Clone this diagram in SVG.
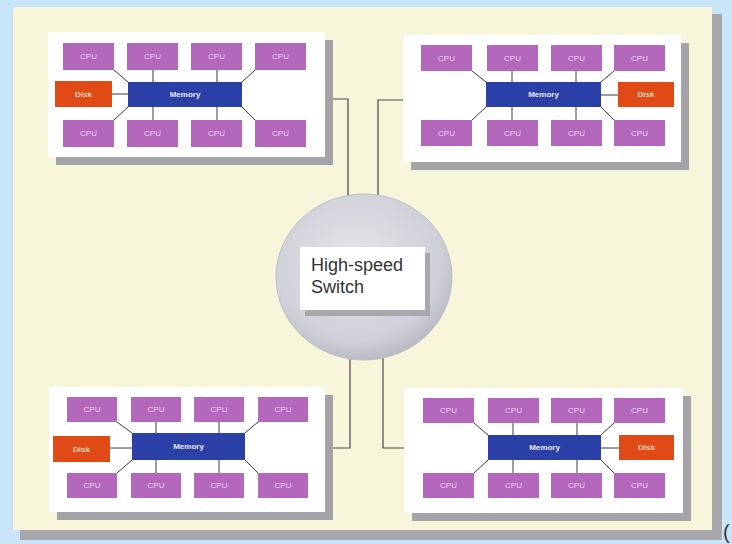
<svg xmlns="http://www.w3.org/2000/svg" width="732" height="544" viewBox="0 0 732 544">
<defs>
<style>
.cpu{fill:#b468bc}
.cpu-t{font-family:"Liberation Sans",Arial,sans-serif;font-size:8px;fill:#ecd0f0;text-anchor:middle}
.mem{fill:#2a40a6}
.mem-t{font-family:"Liberation Sans",Arial,sans-serif;font-size:8px;font-weight:bold;fill:#e8ecff;text-anchor:middle}
.disk{fill:#e04a16}
.disk-t{font-family:"Liberation Sans",Arial,sans-serif;font-size:8px;font-weight:bold;fill:#f8d4b8;text-anchor:middle}
.box{fill:#ffffff}
.shadow{fill:#a4a4a8}
.ln{stroke:#3a3a3a;stroke-width:1;fill:none}
.conn{stroke:#4a4a4a;stroke-width:1.2;fill:none}
.sw-t{font-family:"Liberation Sans",Arial,sans-serif;font-size:18px;fill:#333333}
</style>
<radialGradient id="swg" cx="0.45" cy="0.4" r="0.6">
<stop offset="0" stop-color="#e4e4ea"/>
<stop offset="0.8" stop-color="#d0d0d8"/>
<stop offset="1" stop-color="#bcbcc6"/>
</radialGradient>
</defs>
<rect x="0" y="0" width="732" height="544" fill="#c8e4f8"/>
<rect x="20" y="14" width="702" height="526" fill="#a8a8ac"/>
<rect x="13" y="7" width="699" height="523" fill="#f7f5da"/>
<text x="723" y="539" font-family="Liberation Sans,Arial,sans-serif" font-size="20" fill="#333333">(</text>

<g id="connectors">
<path class="conn" d="M242 99 H348 V200"/>
<path class="conn" d="M486 100 H378 V200"/>
<path class="conn" d="M245 448 H350 V355"/>
<path class="conn" d="M488 448 H383 V355"/>
</g>

<g id="switch">
<ellipse cx="364" cy="277" rx="88" ry="83" fill="url(#swg)" stroke="#c0c0c8" stroke-width="1"/>
<rect x="305" y="253" width="125" height="63" fill="#a8a8ae"/>
<rect x="300" y="247" width="125" height="63" fill="#ffffff"/>
<text class="sw-t" x="311" y="271">High-speed</text>
<text class="sw-t" x="311" y="293">Switch</text>
</g>

<!-- Top-left cluster -->
<g id="cluster-tl">
<rect class="shadow" x="56" y="40" width="277" height="125"/>
<rect class="box" x="48" y="32" width="277" height="125"/>
<line class="ln" x1="112" y1="94" x2="128" y2="94"/>
<line class="ln" x1="114" y1="70" x2="128" y2="82"/>
<line class="ln" x1="255" y1="70" x2="242" y2="82"/>
<line class="ln" x1="114" y1="120" x2="128" y2="107"/>
<line class="ln" x1="255" y1="120" x2="242" y2="107"/>
<line class="ln" x1="153" y1="70" x2="153" y2="82"/>
<line class="ln" x1="217" y1="70" x2="217" y2="82"/>
<line class="ln" x1="153" y1="107" x2="153" y2="120"/>
<line class="ln" x1="217" y1="107" x2="217" y2="120"/>
<g id="tl-cpu1"><rect class="cpu" x="63" y="43" width="51" height="27"/><text class="cpu-t" x="88.5" y="59">CPU</text></g>
<g id="tl-cpu2"><rect class="cpu" x="127" y="43" width="51" height="27"/><text class="cpu-t" x="152.5" y="59">CPU</text></g>
<g id="tl-cpu3"><rect class="cpu" x="191" y="43" width="51" height="27"/><text class="cpu-t" x="216.5" y="59">CPU</text></g>
<g id="tl-cpu4"><rect class="cpu" x="255" y="43" width="51" height="27"/><text class="cpu-t" x="280.5" y="59">CPU</text></g>
<g id="tl-cpu5"><rect class="cpu" x="63" y="120" width="51" height="27"/><text class="cpu-t" x="88.5" y="136">CPU</text></g>
<g id="tl-cpu6"><rect class="cpu" x="127" y="120" width="51" height="27"/><text class="cpu-t" x="152.5" y="136">CPU</text></g>
<g id="tl-cpu7"><rect class="cpu" x="191" y="120" width="51" height="27"/><text class="cpu-t" x="216.5" y="136">CPU</text></g>
<g id="tl-cpu8"><rect class="cpu" x="255" y="120" width="51" height="27"/><text class="cpu-t" x="280.5" y="136">CPU</text></g>
<g id="tl-disk"><rect class="disk" x="55" y="81" width="57" height="26"/><text class="disk-t" x="83.5" y="97">Disk</text></g>
<g id="tl-memory"><rect class="mem" x="128" y="82" width="114" height="25"/><text class="mem-t" x="185" y="97">Memory</text></g>
</g>

<!-- Top-right cluster -->
<g id="cluster-tr">
<rect class="shadow" x="411" y="43" width="278" height="127"/>
<rect class="box" x="403" y="35" width="278" height="127"/>
<line class="ln" x1="601" y1="95" x2="618" y2="95"/>
<line class="ln" x1="472" y1="71" x2="486" y2="82"/>
<line class="ln" x1="614" y1="71" x2="601" y2="82"/>
<line class="ln" x1="472" y1="120" x2="486" y2="107"/>
<line class="ln" x1="614" y1="120" x2="601" y2="107"/>
<line class="ln" x1="512" y1="71" x2="512" y2="82"/>
<line class="ln" x1="576" y1="71" x2="576" y2="82"/>
<line class="ln" x1="512" y1="107" x2="512" y2="120"/>
<line class="ln" x1="576" y1="107" x2="576" y2="120"/>
<g id="tr-cpu1"><rect class="cpu" x="421" y="45" width="51" height="26"/><text class="cpu-t" x="446.5" y="61">CPU</text></g>
<g id="tr-cpu2"><rect class="cpu" x="487" y="45" width="51" height="26"/><text class="cpu-t" x="512.5" y="61">CPU</text></g>
<g id="tr-cpu3"><rect class="cpu" x="551" y="45" width="51" height="26"/><text class="cpu-t" x="576.5" y="61">CPU</text></g>
<g id="tr-cpu4"><rect class="cpu" x="614" y="45" width="51" height="26"/><text class="cpu-t" x="639.5" y="61">CPU</text></g>
<g id="tr-cpu5"><rect class="cpu" x="421" y="120" width="51" height="26"/><text class="cpu-t" x="446.5" y="136">CPU</text></g>
<g id="tr-cpu6"><rect class="cpu" x="487" y="120" width="51" height="26"/><text class="cpu-t" x="512.5" y="136">CPU</text></g>
<g id="tr-cpu7"><rect class="cpu" x="551" y="120" width="51" height="26"/><text class="cpu-t" x="576.5" y="136">CPU</text></g>
<g id="tr-cpu8"><rect class="cpu" x="614" y="120" width="51" height="26"/><text class="cpu-t" x="639.5" y="136">CPU</text></g>
<g id="tr-disk"><rect class="disk" x="618" y="82" width="56" height="25"/><text class="disk-t" x="646" y="97">Disk</text></g>
<g id="tr-memory"><rect class="mem" x="486" y="82" width="115" height="25"/><text class="mem-t" x="543.5" y="97">Memory</text></g>
</g>

<!-- Bottom-left cluster -->
<g id="cluster-bl">
<rect class="shadow" x="57" y="395" width="276" height="125"/>
<rect class="box" x="49" y="387" width="276" height="125"/>
<line class="ln" x1="110" y1="448" x2="132" y2="448"/>
<line class="ln" x1="117" y1="422" x2="132" y2="433"/>
<line class="ln" x1="258" y1="422" x2="245" y2="433"/>
<line class="ln" x1="117" y1="473" x2="132" y2="460"/>
<line class="ln" x1="258" y1="473" x2="245" y2="460"/>
<line class="ln" x1="156" y1="422" x2="156" y2="433"/>
<line class="ln" x1="219" y1="422" x2="219" y2="433"/>
<line class="ln" x1="156" y1="460" x2="156" y2="473"/>
<line class="ln" x1="219" y1="460" x2="219" y2="473"/>
<g id="bl-cpu1"><rect class="cpu" x="67" y="397" width="50" height="25"/><text class="cpu-t" x="92" y="412">CPU</text></g>
<g id="bl-cpu2"><rect class="cpu" x="131" y="397" width="50" height="25"/><text class="cpu-t" x="156" y="412">CPU</text></g>
<g id="bl-cpu3"><rect class="cpu" x="194" y="397" width="50" height="25"/><text class="cpu-t" x="219" y="412">CPU</text></g>
<g id="bl-cpu4"><rect class="cpu" x="258" y="397" width="50" height="25"/><text class="cpu-t" x="283" y="412">CPU</text></g>
<g id="bl-cpu5"><rect class="cpu" x="67" y="473" width="50" height="25"/><text class="cpu-t" x="92" y="488">CPU</text></g>
<g id="bl-cpu6"><rect class="cpu" x="131" y="473" width="50" height="25"/><text class="cpu-t" x="156" y="488">CPU</text></g>
<g id="bl-cpu7"><rect class="cpu" x="194" y="473" width="50" height="25"/><text class="cpu-t" x="219" y="488">CPU</text></g>
<g id="bl-cpu8"><rect class="cpu" x="258" y="473" width="50" height="25"/><text class="cpu-t" x="283" y="488">CPU</text></g>
<g id="bl-disk"><rect class="disk" x="53" y="436" width="57" height="26"/><text class="disk-t" x="81.5" y="452">Disk</text></g>
<g id="bl-memory"><rect class="mem" x="132" y="433" width="113" height="27"/><text class="mem-t" x="188.5" y="449">Memory</text></g>
</g>

<!-- Bottom-right cluster -->
<g id="cluster-br">
<rect class="shadow" x="412" y="396" width="279" height="125"/>
<rect class="box" x="404" y="388" width="279" height="125"/>
<line class="ln" x1="601" y1="448" x2="619" y2="448"/>
<line class="ln" x1="474" y1="423" x2="488" y2="435"/>
<line class="ln" x1="614" y1="423" x2="601" y2="435"/>
<line class="ln" x1="474" y1="473" x2="488" y2="460"/>
<line class="ln" x1="614" y1="473" x2="601" y2="460"/>
<line class="ln" x1="513" y1="423" x2="513" y2="435"/>
<line class="ln" x1="577" y1="423" x2="577" y2="435"/>
<line class="ln" x1="513" y1="460" x2="513" y2="473"/>
<line class="ln" x1="577" y1="460" x2="577" y2="473"/>
<g id="br-cpu1"><rect class="cpu" x="423" y="398" width="51" height="25"/><text class="cpu-t" x="448.5" y="413">CPU</text></g>
<g id="br-cpu2"><rect class="cpu" x="488" y="398" width="51" height="25"/><text class="cpu-t" x="513.5" y="413">CPU</text></g>
<g id="br-cpu3"><rect class="cpu" x="551" y="398" width="51" height="25"/><text class="cpu-t" x="576.5" y="413">CPU</text></g>
<g id="br-cpu4"><rect class="cpu" x="614" y="398" width="51" height="25"/><text class="cpu-t" x="639.5" y="413">CPU</text></g>
<g id="br-cpu5"><rect class="cpu" x="423" y="473" width="51" height="25"/><text class="cpu-t" x="448.5" y="488">CPU</text></g>
<g id="br-cpu6"><rect class="cpu" x="488" y="473" width="51" height="25"/><text class="cpu-t" x="513.5" y="488">CPU</text></g>
<g id="br-cpu7"><rect class="cpu" x="551" y="473" width="51" height="25"/><text class="cpu-t" x="576.5" y="488">CPU</text></g>
<g id="br-cpu8"><rect class="cpu" x="614" y="473" width="51" height="25"/><text class="cpu-t" x="639.5" y="488">CPU</text></g>
<g id="br-disk"><rect class="disk" x="619" y="435" width="55" height="25"/><text class="disk-t" x="646.5" y="450">Disk</text></g>
<g id="br-memory"><rect class="mem" x="488" y="435" width="113" height="25"/><text class="mem-t" x="544.5" y="450">Memory</text></g>
</g>
</svg>
